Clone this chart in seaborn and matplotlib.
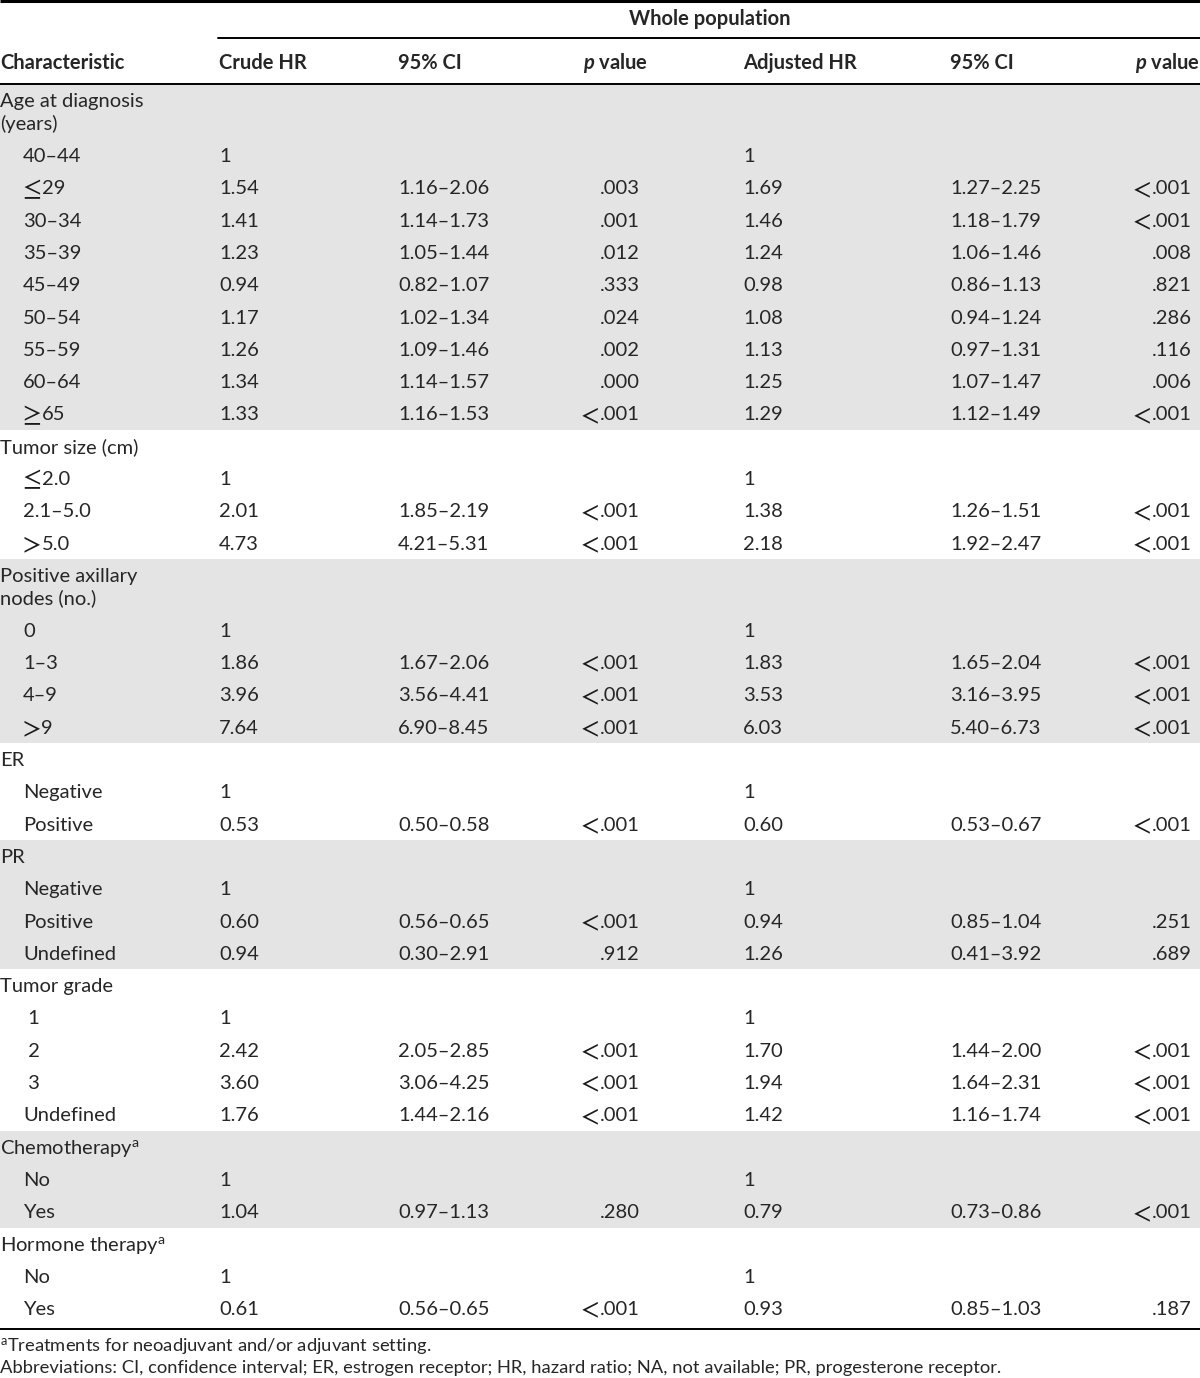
import matplotlib
matplotlib.use("Agg")
import matplotlib.pyplot as plt
import seaborn as sns

# ---------------- data ----------------
group_names = ["Age at diagnosis\n(years)", "Tumor size (cm)", "Positive axillary\nnodes (no.)",
               "ER", "PR", "Tumor grade", "Chemotherapy$^{\\mathregular{a}}$",
               "Hormone therapy$^{\\mathregular{a}}$"]
group_items = [
    ["40–44", "≤29", "30–34", "35–39", "45–49", "50–54", "55–59", "60–64", "≥65"],
    ["≤2.0", "2.1–5.0", ">5.0"],
    ["0", "1–3", "4–9", ">9"],
    ["Negative", "Positive"],
    ["Negative", "Positive", "Undefined"],
    [" 1", " 2", " 3", "Undefined"],
    ["No", "Yes"],
    ["No", "Yes"],
]
crude_hr = ["1", "1.54", "1.41", "1.23", "0.94", "1.17", "1.26", "1.34", "1.33",
            "1", "2.01", "4.73",
            "1", "1.86", "3.96", "7.64",
            "1", "0.53",
            "1", "0.60", "0.94",
            "1", "2.42", "3.60", "1.76",
            "1", "1.04",
            "1", "0.61"]
crude_ci = ["", "1.16–2.06", "1.14–1.73", "1.05–1.44", "0.82–1.07", "1.02–1.34", "1.09–1.46", "1.14–1.57", "1.16–1.53",
            "", "1.85–2.19", "4.21–5.31",
            "", "1.67–2.06", "3.56–4.41", "6.90–8.45",
            "", "0.50–0.58",
            "", "0.56–0.65", "0.30–2.91",
            "", "2.05–2.85", "3.06–4.25", "1.44–2.16",
            "", "0.97–1.13",
            "", "0.56–0.65"]
crude_p = ["", ".003", ".001", ".012", ".333", ".024", ".002", ".000", "<.001",
           "", "<.001", "<.001",
           "", "<.001", "<.001", "<.001",
           "", "<.001",
           "", "<.001", ".912",
           "", "<.001", "<.001", "<.001",
           "", ".280",
           "", "<.001"]
adj_hr = ["1", "1.69", "1.46", "1.24", "0.98", "1.08", "1.13", "1.25", "1.29",
          "1", "1.38", "2.18",
          "1", "1.83", "3.53", "6.03",
          "1", "0.60",
          "1", "0.94", "1.26",
          "1", "1.70", "1.94", "1.42",
          "1", "0.79",
          "1", "0.93"]
adj_ci = ["", "1.27–2.25", "1.18–1.79", "1.06–1.46", "0.86–1.13", "0.94–1.24", "0.97–1.31", "1.07–1.47", "1.12–1.49",
          "", "1.26–1.51", "1.92–2.47",
          "", "1.65–2.04", "3.16–3.95", "5.40–6.73",
          "", "0.53–0.67",
          "", "0.85–1.04", "0.41–3.92",
          "", "1.44–2.00", "1.64–2.31", "1.16–1.74",
          "", "0.73–0.86",
          "", "0.85–1.03"]
adj_p = ["", "<.001", "<.001", ".008", ".821", ".286", ".116", ".006", "<.001",
         "", "<.001", "<.001",
         "", "<.001", "<.001", "<.001",
         "", "<.001",
         "", ".251", ".689",
         "", "<.001", "<.001", "<.001",
         "", "<.001",
         "", ".187"]
header_cols = ["Characteristic", "Crude HR", "95% CI", "$\\mathbfit{p}$ value",
               "Adjusted HR", "95% CI", "$\\mathbfit{p}$ value"]
span_title = "Whole population"
footnotes = ["$^{\\mathregular{a}}$Treatments for neoadjuvant and/or adjuvant setting.",
             "Abbreviations: CI, confidence interval; ER, estrogen receptor; HR, hazard ratio; NA, not available; PR, progesterone receptor."]

# ---------------- style ----------------
sns.set_theme(style="white")
FONT = "Lato"
plt.rcParams["font.family"] = [FONT, "DejaVu Sans"]
plt.rcParams["mathtext.fontset"] = "custom"
plt.rcParams["mathtext.rm"] = FONT
plt.rcParams["mathtext.it"] = FONT + ":italic"
plt.rcParams["mathtext.bf"] = FONT + ":bold"
plt.rcParams["mathtext.bfit"] = FONT + ":bold:italic"

W, H = 1200, 1378
fig = plt.figure(figsize=(W / 100, H / 100), dpi=100)
ax = fig.add_axes([0, 0, 1, 1])
ax.set_xlim(0, W)
ax.set_ylim(H, 0)
ax.axis("off")
renderer = fig.canvas.get_renderer()

FS = 14.5
FS_NOTE = 13.2
SHADE = "#e4e4e4"
SYMS = "<>≤≥"


def put(x, y, s, ha, **kw):
    """Draw text; a leading comparison sign is drawn in a thin math face."""
    if not s or s[0] not in SYMS:
        return ax.text(x, y, s, fontsize=FS, ha=ha, va="center", **kw)
    sym, rest = s[0], s[1:].lstrip()
    gap = 1
    skw = dict(fontsize=FS * 1.35, family="STIXGeneral", va="center", color="#1a1a1a")
    if ha == "left":
        t = ax.text(x - 1, y + 0.5, sym, ha="left", **skw)
        w = t.get_window_extent(renderer).width
        ax.text(x - 1 + w + gap, y, rest, fontsize=FS, ha="left", va="center", **kw)
    else:
        t = ax.text(x, y, rest, fontsize=FS, ha="right", va="center", **kw)
        w = t.get_window_extent(renderer).width
        ax.text(x - w - gap, y + 0.5, sym, ha="right", **skw)


# column anchors (x, ha)
col_x = [(0, "left"), (219, "left"), (398, "left"), (640, "right"),
         (743, "left"), (950, "left"), (1192, "right")]

# header
ax.plot([0, W], [1, 1], color="black", lw=2.2, solid_capstyle="butt")
ax.text(710, 19, span_title, fontsize=FS, fontweight="bold", ha="center", va="center")
ax.plot([218, W], [38, 38], color="black", lw=1.4)
hdr_x = [0, 219, 398, 648, 743, 950, 1200]
for i, name in enumerate(header_cols):
    ax.text(hdr_x[i], 63, name, fontsize=FS, fontweight="bold", ha=col_x[i][1], va="center")
ax.plot([0, W], [83.5, 83.5], color="black", lw=1.4)

# body
ROW = 32.3
TWO = 55.0
OFF = 17.5
top = 84.0
k = 0
for g, (gname, items) in enumerate(zip(group_names, group_items)):
    two_line = "\n" in gname
    gh = TWO if two_line else ROW
    gtop = top
    gbottom = top + gh + ROW * len(items)
    if g % 2 == 0:
        ax.axhspan(gtop, gbottom, color=SHADE, lw=0, zorder=0)
    for li, ln in enumerate(gname.split("\n")):
        ax.text(0, gtop + OFF + 22 * li, ln, fontsize=FS, ha="left", va="center")
    y = gtop + gh + OFF
    for item in items:
        put(23, y, item, "left")
        vals = [crude_hr[k], crude_ci[k], crude_p[k], adj_hr[k], adj_ci[k], adj_p[k]]
        for c, v in enumerate(vals):
            if v:
                x, ha = col_x[c + 1]
                put(x, y, v, ha)
        y += ROW
        k += 1
    top = gbottom

ax.plot([0, W], [top + 5, top + 5], color="black", lw=1.4)
ax.text(0, 1347, footnotes[0], fontsize=FS_NOTE, ha="left", va="center")
ax.text(0, 1368, footnotes[1], fontsize=FS_NOTE, ha="left", va="center")

fig.savefig("out.png", dpi=100)
